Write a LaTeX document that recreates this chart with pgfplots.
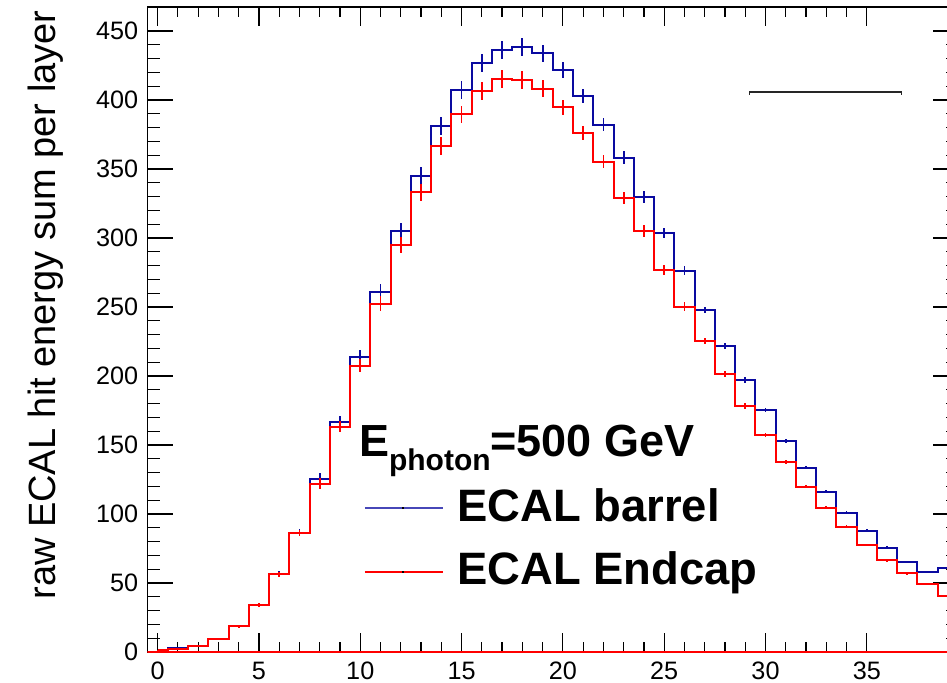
\documentclass[border=0pt]{standalone}
\usepackage{fontspec}
\setmainfont{Liberation Sans}
\usepackage{pgfplots}
\pgfplotsset{compat=1.18}
\usepackage{pgfplotstable}

\definecolor{rootblue}{RGB}{10,10,160}
\definecolor{rootred}{RGB}{255,0,0}

% layer, barrel sum, barrel error, endcap sum, endcap error
\pgfplotstableread{
x  b      eb   r      er
0  1.5    0.3  1.4    0.3
1  2.7    0.4  2.2    0.4
2  4.4    0.6  4.3    0.6
3  9.4    0.8  9.3    0.8
4  18.8   1.0  18.6   1.0
5  34.2   1.2  34.0   1.2
6  56.6   1.8  56.3   1.8
7  86.5   2.4  86.3   2.4
8  125.5  4.0  122.0  4.0
9  166.4  4.3  163.3  4.0
10 213.5  5.4  207.5  4.6
11 261.0  6.0  252.5  5.6
12 305.3  5.8  295.0  5.8
13 345.2  6.4  333.0  6.0
14 381.2  6.4  366.7  6.4
15 407.2  6.4  389.6  6.4
16 426.6  6.4  406.5  6.4
17 436.2  6.4  415.0  6.4
18 438.2  6.4  414.5  6.4
19 433.8  6.0  408.2  6.0
20 421.7  5.6  394.7  5.6
21 402.9  5.2  375.9  5.2
22 382.1  4.6  355.3  4.8
23 358.2  4.6  329.2  4.4
24 330.0  4.3  305.0  4.2
25 303.6  3.9  277.0  3.8
26 276.3  3.4  250.2  3.2
27 247.8  2.4  225.4  2.4
28 222.0  2.2  201.4  2.2
29 197.1  2.0  178.3  2.0
30 175.4  1.6  157.2  1.6
31 153.1  1.4  137.4  1.4
32 133.6  1.3  119.8  1.3
33 116.2  1.2  104.6  1.2
34 101.0  1.1  90.8   1.1
35 87.9   1.0  77.5   1.0
36 75.6   1.0  66.5   1.0
37 65.4   0.9  57.0   0.9
38 58.2   0.8  49.3   0.8
39 61.1   0.8  40.6   0.8
}\layers

\begin{document}
\begin{tikzpicture}
\useasboundingbox (-73.75pt,-15pt) rectangle (399.75pt,326pt);
\begin{axis}[
  at={(0pt,0pt)}, anchor=south west,
  scale only axis, width=405.25pt, height=322.5pt,
  xmin=-0.5, xmax=39.5, ymin=0, ymax=467.4,
  xtick={0,5,...,35}, ytick={0,50,...,450},
  minor x tick num=4, minor y tick num=4,
  tick align=inside,
  xtick style={/pgfplots/major tick length=9.5pt, /pgfplots/minor tick length=4.8pt},
  ytick style={/pgfplots/major tick length=12.5pt, /pgfplots/minor tick length=6pt},
  every tick/.append style={black, line width=0.6pt},
  axis line style={line width=0.85pt},
  /pgf/number format/assume math mode=true,
  ticklabel style={font=\fontsize{12.6}{13}\selectfont, inner sep=0pt},
  xticklabel style={anchor=north, yshift=-4.8pt},
  yticklabel style={anchor=east, xshift=-4.5pt},
  clip=true,
]
% barrel
\addplot[rootblue, line width=1pt, const plot mark mid,
  error bars/.cd, y dir=both, y explicit, error mark=none,
  error bar style={line width=0.9pt}]
  table[x=x, y=b, y error=eb] {\layers};
% endcap
\addplot[rootred, line width=1pt, const plot mark mid,
  error bars/.cd, y dir=both, y explicit, error mark=none,
  error bar style={line width=0.9pt}]
  table[x=x, y=r, y error=er] {\layers};
% baseline
\addplot[rootred, line width=0.9pt] coordinates {(-0.5,0) (39.5,0)};

% leftover box edge
\draw[line width=0.55pt, black!85] (axis cs:29.23,403.6) -- (axis cs:29.23,405.8)
  -- (axis cs:36.73,405.8) -- (axis cs:36.73,403.6);

% legend
\node[anchor=base west, inner sep=0pt, font=\bfseries\fontsize{22.5}{22.5}\selectfont]
  at (axis cs:9.92,141.5) {E\raisebox{-6.67pt}{\fontsize{15}{15}\selectfont photon}=500 GeV};
\draw[rootblue!75, line width=0.85pt] (axis cs:10.23,104.6) -- (axis cs:14.08,104.6);
\draw[black, line width=0.85pt] (axis cs:12.08,104.6) -- (axis cs:12.14,104.6);
\node[anchor=base west, inner sep=0pt, font=\bfseries\fontsize{22.7}{22.7}\selectfont]
  at (axis cs:14.77,94.4) {ECAL barrel};
\draw[rootred, line width=0.85pt] (axis cs:10.23,58.2) -- (axis cs:14.08,58.2);
\draw[black, line width=0.85pt] (axis cs:12.08,58.2) -- (axis cs:12.14,58.2);
\node[anchor=base west, inner sep=0pt, font=\bfseries\fontsize{22.7}{22.7}\selectfont]
  at (axis cs:14.77,48.6) {ECAL Endcap};
\end{axis}
\node[rotate=90, anchor=base east, inner sep=0pt, font=\fontsize{19}{19}\selectfont]
  at (-46pt,321pt) {raw ECAL hit energy sum per layer};
\end{tikzpicture}
\end{document}
